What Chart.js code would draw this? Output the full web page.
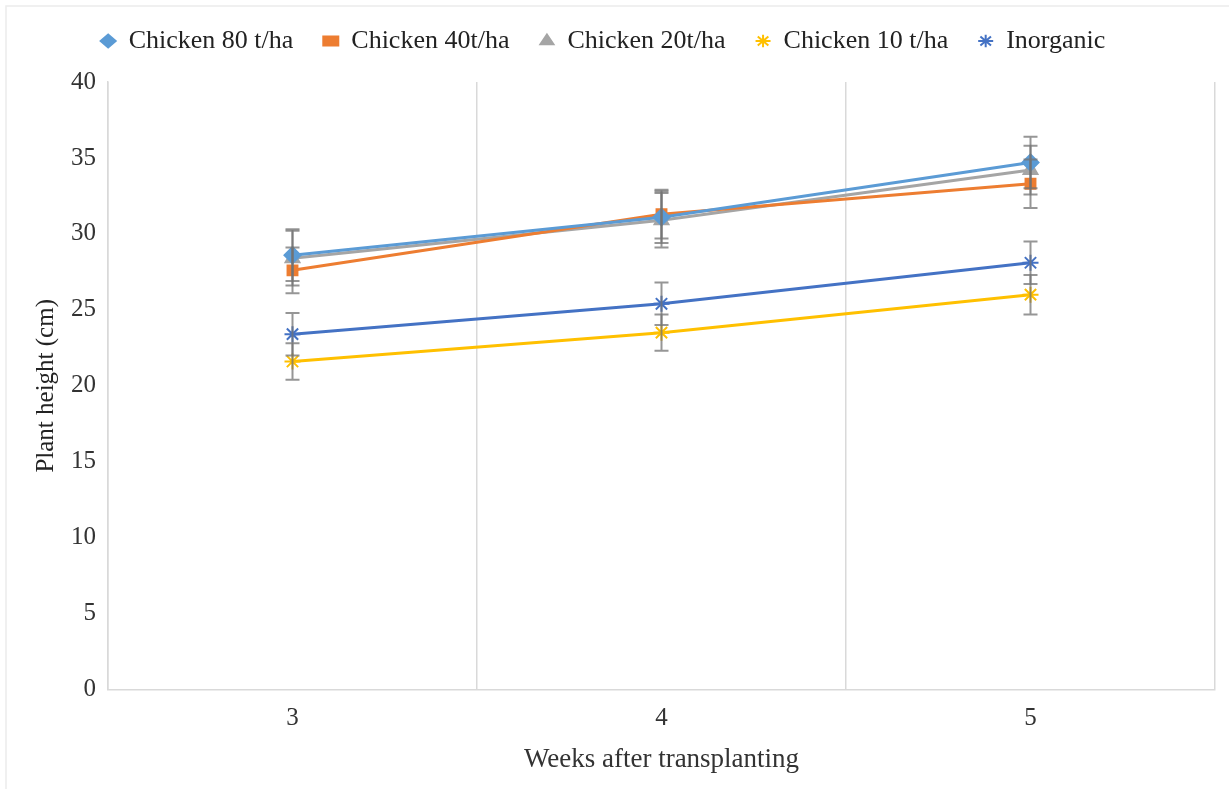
<!DOCTYPE html>
<html><head><meta charset="utf-8">
<script src="https://cdn.jsdelivr.net/npm/chart.js@4/dist/chart.umd.min.js"></script>
<style>html,body{margin:0;padding:0;background:#fff}#wrap{width:1229px;height:789px;position:relative}</style>
</head><body><div id="wrap"><canvas id="c" width="1229" height="789"></canvas></div>
<script>
const categories = ["3", "4", "5"];
const chicken80 = [28.6, 31.1, 34.7];
const chicken40 = [27.6, 31.3, 33.3];
const chicken20 = [28.4, 30.9, 34.2];
const chicken10 = [21.6, 23.5, 26.0];
const inorganic = [23.4, 25.4, 28.1];
const err80 = [1.7, 1.7, 1.7];
const err40 = [1.5, 1.6, 1.6];
const err20 = [1.8, 1.8, 1.6];
const err10 = [1.2, 1.2, 1.3];
const errIn = [1.4, 1.4, 1.4];
const yTicks = [0, 5, 10, 15, 20, 25, 30, 35, 40];

const FONT = "'Liberation Serif','Times New Roman',serif";
function ds(label, data, err, color, style, radius) {
  return { label, data, err, borderColor: color, backgroundColor: color, borderWidth: 3,
    pointStyle: style, pointRadius: radius, pointHoverRadius: radius, pointBorderWidth: 2,
    tension: 0, fill: false };
}
const errorBars = {
  id: 'errorBars',
  afterDatasetsDraw(chart) {
    const ctx = chart.ctx, ys = chart.scales.y;
    ctx.save();
    ctx.strokeStyle = 'rgba(115,115,115,0.75)';
    ctx.lineWidth = 2;
    chart.data.datasets.forEach((d, i) => {
      const meta = chart.getDatasetMeta(i);
      meta.data.forEach((pt, j) => {
        const e = d.err[j], v = d.data[j];
        const x = pt.x, y1 = ys.getPixelForValue(v + e), y2 = ys.getPixelForValue(v - e);
        ctx.beginPath();
        ctx.moveTo(x, y1); ctx.lineTo(x, y2);
        ctx.moveTo(x - 7, y1); ctx.lineTo(x + 7, y1);
        ctx.moveTo(x - 7, y2); ctx.lineTo(x + 7, y2);
        ctx.stroke();
      });
    });
    ctx.restore();
  }
};
const frame = {
  id: 'frame',
  beforeDraw(chart) {
    const ctx = chart.ctx;
    ctx.save();
    ctx.strokeStyle = '#ececec'; ctx.lineWidth = 1.5;
    ctx.beginPath();
    ctx.moveTo(6, chart.height); ctx.lineTo(6, 6); ctx.lineTo(chart.width, 6);
    ctx.stroke();
    ctx.restore();
  }
};
const legendSpace = {
  id: 'legendSpace',
  beforeInit(chart) {
    const orig = chart.legend.fit;
    chart.legend.fit = function () { orig.bind(chart.legend)(); this.height += 16; };
  },
  afterLayout(chart) {
    chart.legend.left -= 18; chart.legend.right -= 18;
    chart.legend.top -= 2; chart.legend.bottom -= 2;
  }
};
new Chart(document.getElementById('c'), {
  type: 'line',
  data: { labels: categories, datasets: [
    ds('Chicken 80 t/ha', chicken80, err80, '#5B9BD5', 'rectRot', 8),
    ds('Chicken 40t/ha', chicken40, err40, '#ED7D31', 'rect', 7),
    ds('Chicken 20t/ha', chicken20, err20, '#A5A5A5', 'triangle', 8),
    ds('Chicken 10 t/ha', chicken10, err10, '#FFC000', 'star', 8),
    ds('Inorganic', inorganic, errIn, '#4472C4', 'star', 8)
  ]},
  plugins: [errorBars, frame, legendSpace],
  options: {
    responsive: false, animation: false,
    layout: { padding: { left: 27, right: 14, top: 0, bottom: 9 } },
    plugins: {
      legend: { position: 'top', labels: { usePointStyle: true, pointStyleWidth: 15, boxHeight: 9, padding: 30,
        color: '#222', font: { family: FONT, size: 26 } } },
      tooltip: { enabled: false }
    },
    scales: {
      x: { offset: true,
        grid: { offset: true, drawTicks: false, color: '#d9d9d9', lineWidth: 1.5 },
        border: { color: '#d9d9d9', width: 1.5 },
        ticks: { color: '#333', padding: 14, font: { family: FONT, size: 25 } },
        title: { display: true, text: 'Weeks after transplanting', color: '#333', padding: { top: -4, bottom: 4 },
          font: { family: FONT, size: 27 } } },
      y: { min: 0, max: 40,
        afterBuildTicks(s) { s.ticks = yTicks.map(v => ({ value: v })); },
        afterFit(s) { s.width = 81; },
        grid: { display: false },
        border: { color: '#d9d9d9', width: 1.5 },
        ticks: { color: '#333', padding: 4, font: { family: FONT, size: 25 } },
        title: { display: true, text: 'Plant height (cm)', color: '#222', padding: { top: 4, bottom: 4 },
          font: { family: FONT, size: 25 } } }
    }
  }
});
</script></body></html>
